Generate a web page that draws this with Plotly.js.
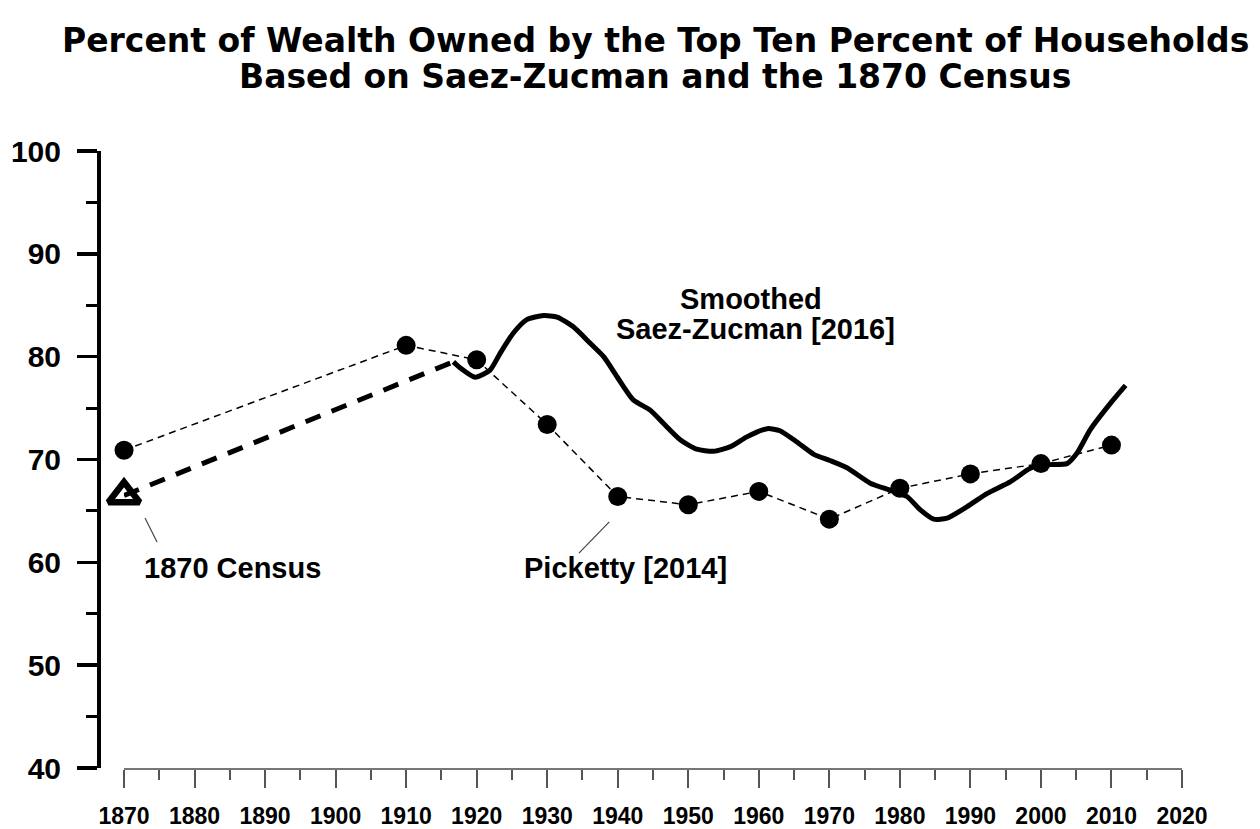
<!DOCTYPE html>
<html>
<head>
<meta charset="utf-8">
<script src="https://cdn.plot.ly/plotly-3.0.1.min.js"></script>
<style>html,body{margin:0;padding:0;background:#fff;}</style>
</head>
<body>
<div id="chart" style="width:1260px;height:829px;"></div>
<script>
// Picketty [2014] decadal estimates
var pickettyYears = [1870, 1910, 1920, 1930, 1940, 1950, 1960, 1970, 1980, 1990, 2000, 2010];
var pickettyValues = [70.9, 81.1, 79.7, 73.4, 66.4, 65.6, 66.9, 64.2, 67.2, 68.6, 69.6, 71.4];

// 1870 Census point and the bridge to Saez-Zucman
var censusYears = [1870];
var censusValues = [66.5];
var bridgeYears = [1870, 1916.7];
var bridgeValues = [66.5, 79.5];

// Smoothed Saez-Zucman [2016]
var szYears = [1916.7, 1917.7, 1919.8, 1921.9, 1923.3, 1925.2, 1927.1, 1929.5, 1931.4, 1933.7,
  1936.1, 1938.0, 1939.9, 1942.2, 1944.6, 1946.5, 1948.9, 1951.2, 1953.6, 1956.0,
  1958.3, 1961.2, 1963.0, 1965.4, 1967.8, 1970.1, 1972.5, 1975.8, 1978.7, 1981.0,
  1982.9, 1984.8, 1986.7, 1989.5, 1992.4, 1995.7, 1998.5, 2000.9, 2003.7, 2005.1,
  2007.0, 2009.9, 2012.0];
var szValues = [79.5, 78.9, 78.0, 78.7, 80.3, 82.3, 83.6, 84.0, 83.85, 82.9,
  81.3, 80.0, 78.05, 75.8, 74.8, 73.5, 71.9, 71.0, 70.8, 71.25,
  72.2, 73.0, 72.8, 71.7, 70.5, 69.9, 69.2, 67.7, 67.0, 66.4,
  65.1, 64.2, 64.3, 65.4, 66.7, 67.85, 69.15, 69.5, 69.6, 70.6,
  72.9, 75.5, 77.2];

var xTicks = [1870, 1880, 1890, 1900, 1910, 1920, 1930, 1940, 1950, 1960, 1970, 1980, 1990, 2000, 2010, 2020];
var yTicks = [40, 50, 60, 70, 80, 90, 100];

var titleLines = ['Percent of Wealth Owned by the Top Ten Percent of Households',
                  'Based on Saez-Zucman and the 1870 Census'];

var arial = 'Liberation Sans, Arial, Helvetica, sans-serif';
var titleFont = 'DejaVu Sans, Verdana, sans-serif';

var traces = [
  {
    x: bridgeYears, y: bridgeValues, type: 'scatter', mode: 'lines',
    line: {color: '#000', width: 5, dash: '16px,12px'}, cliponaxis: false, hoverinfo: 'skip'
  },
  {
    x: pickettyYears, y: pickettyValues, type: 'scatter', mode: 'lines+markers',
    line: {color: '#000', width: 1.5, dash: '7px,5px'},
    marker: {symbol: 'circle', size: 19, color: '#000'}, cliponaxis: false
  },
  {
    x: szYears, y: szValues, type: 'scatter', mode: 'lines',
    line: {color: '#000', width: 5, shape: 'spline', smoothing: 0.6}, cliponaxis: false
  },
  {
    x: censusYears, y: censusValues, type: 'scatter', mode: 'markers',
    marker: {symbol: 'triangle-up-open', size: 27, color: '#000', line: {color: '#000', width: 6.5}},
    cliponaxis: false
  }
];

var layout = {
  width: 1260, height: 829,
  paper_bgcolor: '#fff', plot_bgcolor: '#fff',
  showlegend: false,
  margin: {l: 98, r: 78, t: 151, b: 61, pad: 0},
  xaxis: {
    domain: [0.024, 1], range: [1870, 2020], anchor: 'y',
    tickvals: xTicks, ticktext: xTicks.map(String),
    ticks: 'outside', ticklen: 18, tickwidth: 2, tickcolor: '#555',
    showline: true, linecolor: '#777', linewidth: 2,
    showgrid: false, zeroline: false, ticklabelstandoff: 8,
    minor: {dtick: 5, tick0: 1870, ticks: 'outside', ticklen: 10, tickwidth: 2, tickcolor: '#555', showgrid: false},
    tickfont: {family: arial, size: 23, color: '#000', weight: 'bold'}
  },
  yaxis: {
    anchor: 'free', position: 0, range: [40, 100],
    tickvals: yTicks, ticktext: yTicks.map(String),
    ticks: 'outside', ticklen: 20, tickwidth: 3.5, tickcolor: '#000',
    showline: true, linecolor: '#000', linewidth: 3.5,
    showgrid: false, zeroline: false, ticklabelstandoff: 10,
    minor: {dtick: 5, tick0: 40, ticks: 'outside', ticklen: 11, tickwidth: 3, tickcolor: '#000', showgrid: false},
    tickfont: {family: arial, size: 30, color: '#000', weight: 'bold'}
  },
  annotations: [
    {xref: 'paper', yref: 'paper', x: 0.514, y: 1.179, text: titleLines[0], showarrow: false,
     xanchor: 'center', yanchor: 'middle', font: {family: titleFont, size: 33, color: '#000', weight: 'bold'}},
    {xref: 'paper', yref: 'paper', x: 0.514, y: 1.1205, text: titleLines[1], showarrow: false,
     xanchor: 'center', yanchor: 'middle', font: {family: titleFont, size: 33, color: '#000', weight: 'bold'}},
    {x: 1958.9, y: 85.6, text: 'Smoothed', showarrow: false, xanchor: 'center', yanchor: 'middle',
     font: {family: arial, size: 29, color: '#000', weight: 'bold'}},
    {x: 1959.6, y: 82.7, text: 'Saez-Zucman [2016]', showarrow: false, xanchor: 'center', yanchor: 'middle',
     font: {family: arial, size: 29, color: '#000', weight: 'bold'}},
    {x: 1872.55, y: 59.45, text: '1870 Census', showarrow: false, xanchor: 'left', yanchor: 'middle',
     font: {family: arial, size: 29, color: '#000', weight: 'bold'}},
    {x: 1941.1, y: 59.45, text: 'Picketty [2014]', showarrow: false, xanchor: 'center', yanchor: 'middle',
     font: {family: arial, size: 29, color: '#000', weight: 'bold'}}
  ],
  shapes: [
    {type: 'line', xref: 'x', yref: 'y', x0: 1872.98, y0: 64.32, x1: 1874.68, y1: 61.98,
     line: {color: '#444', width: 1.2}},
    {type: 'line', xref: 'x', yref: 'y', x0: 1938.8, y0: 63.93, x1: 1934.5, y1: 60.9,
     line: {color: '#444', width: 1.2}}
  ]
};

Plotly.newPlot('chart', traces, layout, {displayModeBar: false, staticPlot: true});
</script>
</body>
</html>
